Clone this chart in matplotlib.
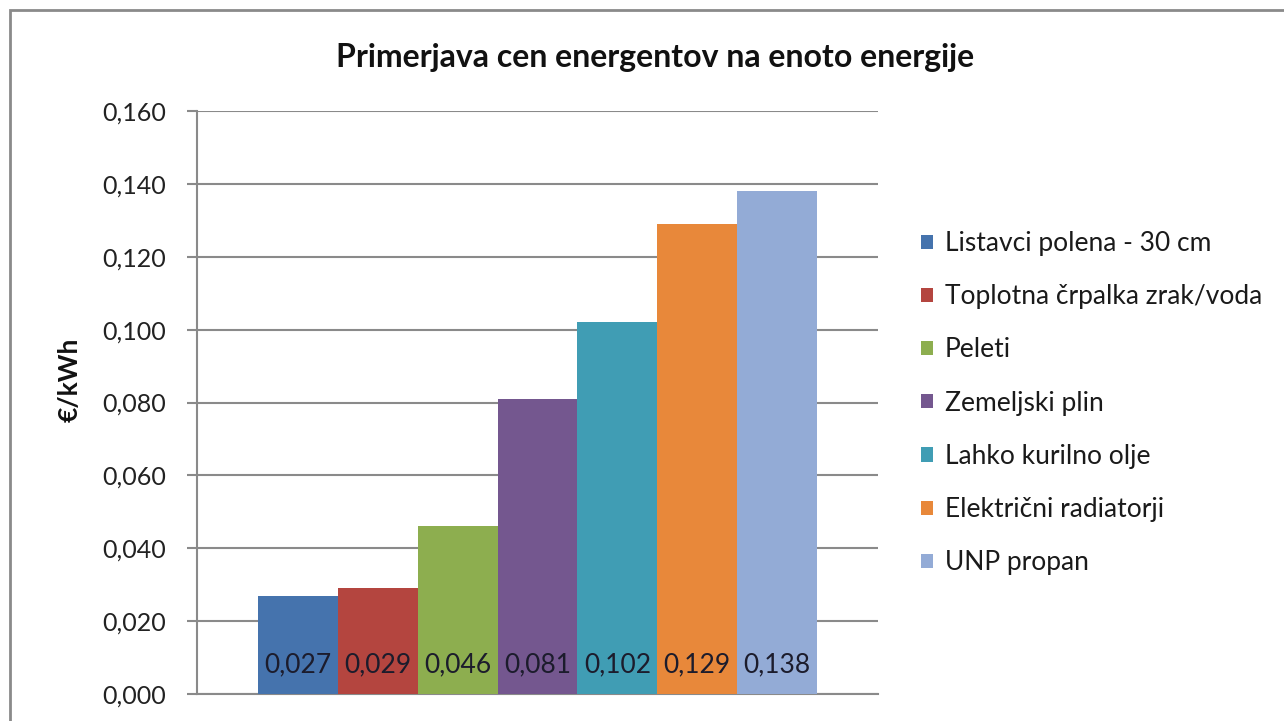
import matplotlib
matplotlib.use("Agg")
import matplotlib.pyplot as plt
from matplotlib.patches import Rectangle
from matplotlib.ticker import FuncFormatter, MultipleLocator

plt.rcParams['font.family'] = ['Lato', 'DejaVu Sans']

title = "Primerjava cen energentov na enoto energije"
ylabel = "€/kWh"
categories = ["Listavci polena - 30 cm", "Toplotna črpalka zrak/voda", "Peleti",
              "Zemeljski plin", "Lahko kurilno olje", "Električni radiatorji", "UNP propan"]
values = [0.027, 0.029, 0.046, 0.081, 0.102, 0.129, 0.138]
colors = ['#4573ad', '#b4453f', '#8dae4f', '#74578f', '#409db4', '#e8883a', '#93abd6']

W, H = 1284, 721
fig = plt.figure(figsize=(W / 100, H / 100), dpi=100)
fig.patch.set_facecolor('white')

# outer chart border (cropped at right and bottom)
fig.patches.append(Rectangle((10 / W, -0.05), 1.2, (H - 10) / H + 0.05,
                             transform=fig.transFigure, fill=False,
                             edgecolor='#8a8a8a', linewidth=2))

ax = fig.add_axes([197 / W, (H - 694) / H, (878 - 197) / W, (694 - 111) / H])

for i, (cat, v, c) in enumerate(zip(categories, values, colors)):
    ax.bar(i, v, width=1.0, color=c, label=cat, zorder=3)
    ax.text(i, 0.0080, f"{v:.3f}".replace('.', ','), ha='center', va='center',
            fontsize=19, color='#1c1c2c', zorder=4)

ax.set_xlim(-1.264, 7.264)
ax.set_ylim(0, 0.160)
ax.yaxis.set_major_locator(MultipleLocator(0.02))
ax.yaxis.set_major_formatter(FuncFormatter(lambda y, p: f"{y:.3f}".replace('.', ',')))
ax.set_xticks([])
ax.grid(axis='y', color='#8a8a8a', linewidth=1.5, zorder=0)
for s in ['top', 'right']:
    ax.spines[s].set_visible(False)
ax.spines['left'].set_color('#8a8a8a')
ax.spines['left'].set_linewidth(1.5)
ax.spines['bottom'].set_color('#8a8a8a')
ax.spines['bottom'].set_linewidth(1.5)
ax.tick_params(axis='y', length=7, width=1.5, color='#8a8a8a', pad=15,
               labelsize=18, labelcolor='#222222')
ax.tick_params(axis='x', length=0)

fig.text(70 / W, (H - 380) / H, ylabel, rotation=90, ha='center', va='center',
         fontsize=19, fontweight='bold', color='#111111')
fig.text(655 / W, (H - 57) / H, title, ha='center', va='center',
         fontsize=23, fontweight='bold', color='#111111')

leg = ax.legend(loc='upper left', bbox_to_anchor=(921 / W, (H - 231) / H),
                bbox_transform=fig.transFigure, frameon=False, fontsize=19,
                handlelength=0.45, handleheight=0.45, handletextpad=0.45,
                labelspacing=1.07, borderaxespad=0, borderpad=0)
for t in leg.get_texts():
    t.set_color('#1a1a1a')

fig.savefig('out.png', dpi=100, facecolor='white')
